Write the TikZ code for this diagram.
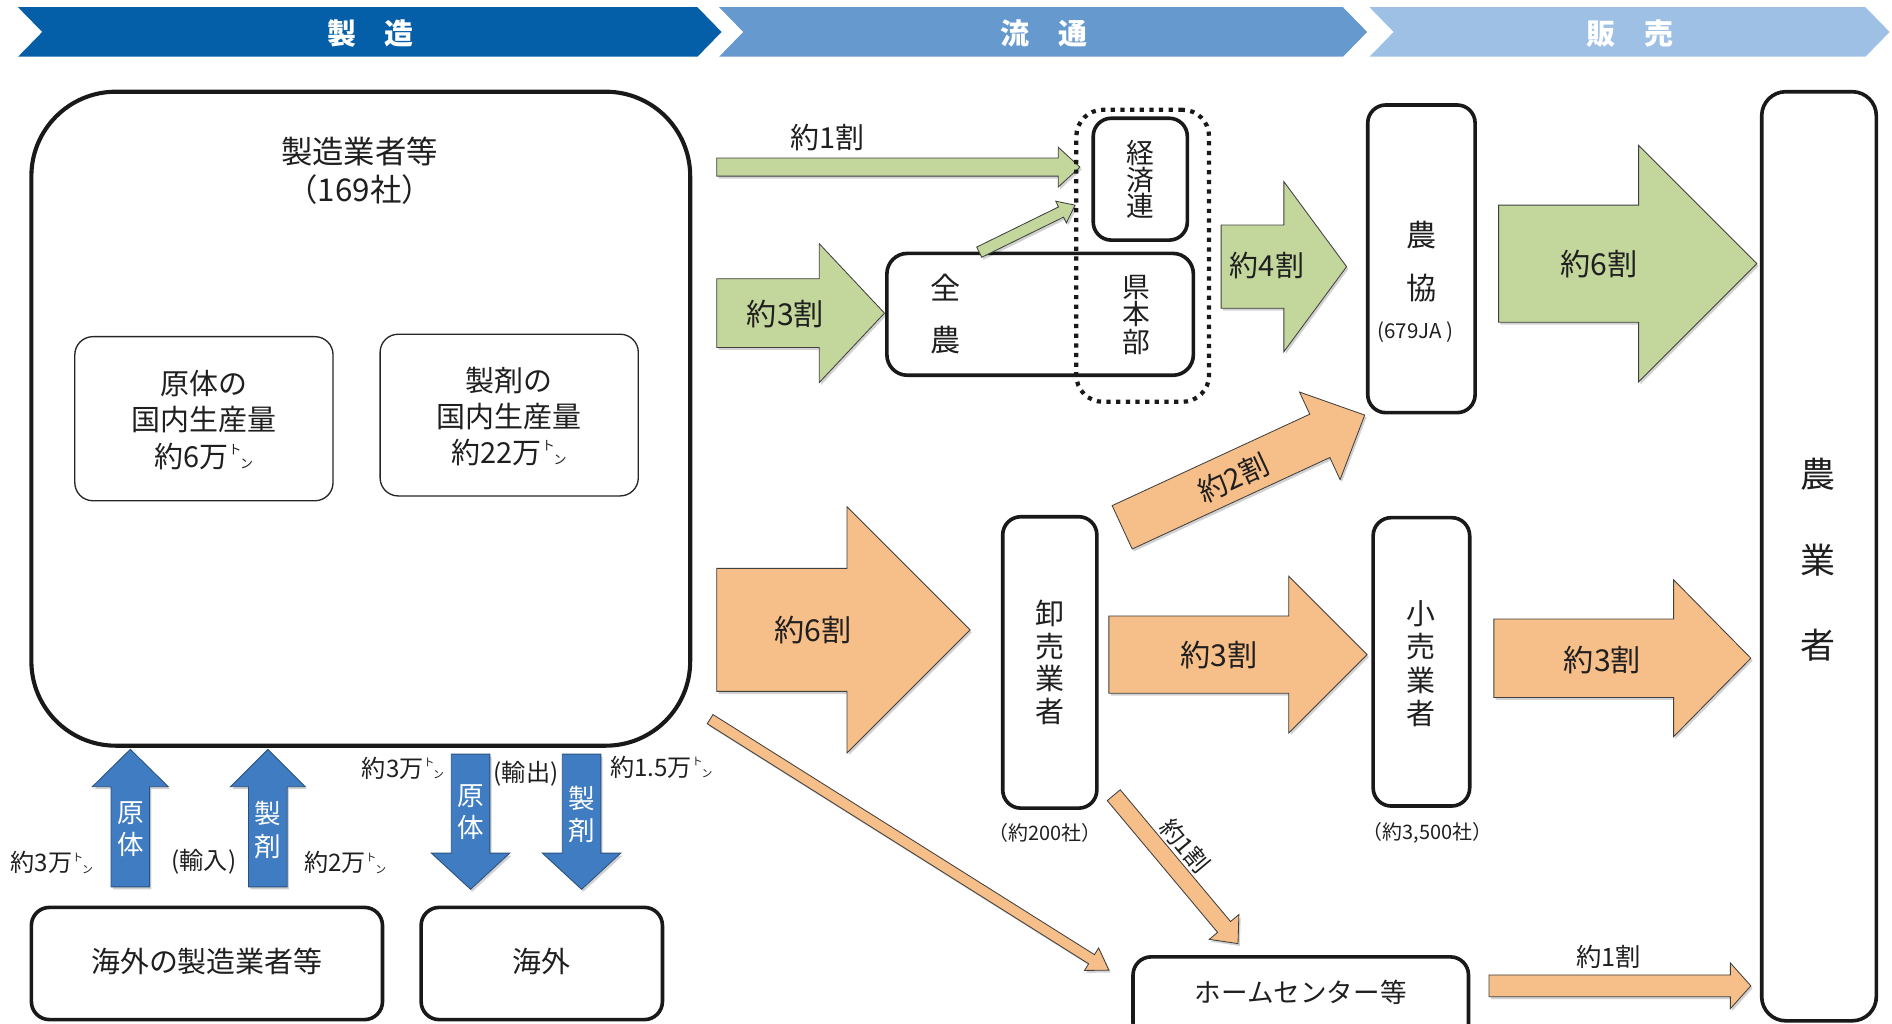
\documentclass[tikz,border=0pt]{standalone}
\usepackage{fontspec}
\setmainfont{Noto Sans CJK JP}
\usepackage{graphicx}
\usetikzlibrary{calc,shadows}
\definecolor{bannerA}{RGB}{4,94,168}
\definecolor{bannerB}{RGB}{102,153,206}
\definecolor{bannerC}{RGB}{158,192,229}
\definecolor{agreen}{RGB}{195,214,155}
\definecolor{aorange}{RGB}{246,190,136}
\definecolor{ablue}{RGB}{64,124,193}
\newcommand{\jfs}[2]{\fontsize{#1}{#2}\selectfont}
\newcommand{\tonmk}{\raisebox{0.45em}{\scalebox{0.45}{ト}}\hspace{-0.05em}\raisebox{-0.05em}{\scalebox{0.45}{ン}}}
\newcommand{\blockarrow}[6]{%
  \coordinate (#3h) at ($(#3)!#6!(#2)$);
  \draw[#1] ($(#2)!#4!90:(#3)$) -- ($(#3h)!#4!90:(#3)$) -- ($(#3h)!#5!90:(#3)$) -- (#3) -- ($(#3h)!#5!-90:(#3)$) -- ($(#3h)!#4!-90:(#3)$) -- ($(#2)!#4!-90:(#3)$) -- cycle;
}
\begin{document}
\begin{tikzpicture}[x=1pt,y=-1pt,
  thickbox/.style={draw=black!90, line width=3pt, rounded corners=#1, fill=white, inner sep=0pt},
  thickbox/.default=15pt,
  thinbox/.style={draw=black!85, line width=1.1pt, rounded corners=15pt, fill=white, inner sep=0pt},
  ashadow/.style={drop shadow={shadow xshift=1.5pt, shadow yshift=-2pt, opacity=0.18, fill=black}},
  greenarr/.style={fill=agreen, draw=black!75, line width=0.7pt, ashadow},
  orangearr/.style={fill=aorange, draw=black!75, line width=0.7pt, ashadow},
  bluearr/.style={fill=ablue, draw=ablue!65!black, line width=0.7pt, ashadow},
  lbl/.style={inner sep=0pt, text=black!88, align=center},
  hdr/.style={inner sep=0pt, text=white, font=\jfs{24}{28}\bfseries},
  wlbl/.style={inner sep=0pt, text=white, align=center, font=\jfs{22}{27}},
]
\useasboundingbox (0,0) rectangle (1568,848);

% header banner
\fill[bannerA] (15,6) -- (578,6) -- (598,26.5) -- (578,47) -- (15,47) -- (35,26.5) -- cycle;
\fill[bannerB] (596,6) -- (1113,6) -- (1133,26.5) -- (1113,47) -- (596,47) -- (616,26.5) -- cycle;
\fill[bannerC] (1135,6) -- (1546,6) -- (1566,26.5) -- (1546,47) -- (1135,47) -- (1155,26.5) -- cycle;
\node[hdr] (h1) at (307,28) {製　造};
\node[hdr] (h2) at (865,28) {流　通};
\node[hdr] (h3) at (1351,28) {販　売};

% manufacturer box
\node[thickbox=70pt, line width=3.4pt, minimum width=546pt, minimum height=542pt] (mfr) at (299,347) {};
\node[lbl, font=\jfs{26}{31}] (mfrt) at (298,141.5) {製造業者等\\（169社）};
\node[thinbox, minimum width=214pt, minimum height=136pt] (genb) at (169,347) {};
\node[lbl, font=\jfs{24}{30}] (genbt) at (169,348) {原体の\\国内生産量\\約6万\tonmk};
\node[thinbox, minimum width=214pt, minimum height=134pt] (seib) at (422,344) {};
\node[lbl, font=\jfs{24}{30}] (seibt) at (422,345) {製剤の\\国内生産量\\約22万\tonmk};

% overseas boxes
\node[thickbox, minimum width=291pt, minimum height=93pt] (ovm) at (171.5,798.5) {};
\node[lbl, font=\jfs{24}{28}] (ovmt) at (171.5,797) {海外の製造業者等};
\node[thickbox, minimum width=200pt, minimum height=93pt] (ovs) at (449,798.5) {};
\node[lbl, font=\jfs{24}{28}] (ovst) at (449,797) {海外};

% blue import/export arrows
\coordinate (b1s) at (108,735); \coordinate (b1e) at (108,621);
\blockarrow{bluearr}{b1s}{b1e}{16pt}{31.5pt}{31pt}
\coordinate (b2s) at (222,735); \coordinate (b2e) at (222,621);
\blockarrow{bluearr}{b2s}{b2e}{16pt}{31pt}{31pt}
\coordinate (b3s) at (390,625); \coordinate (b3e) at (390,737);
\blockarrow{bluearr}{b3s}{b3e}{16pt}{32.5pt}{30pt}
\coordinate (b4s) at (482,625); \coordinate (b4e) at (482,737);
\blockarrow{bluearr}{b4s}{b4e}{16pt}{32.5pt}{30pt}
\node[wlbl] (b1t) at (108,687) {原\\体};
\node[wlbl] (b2t) at (222,688) {製\\剤};
\node[wlbl] (b3t) at (390,673) {原\\体};
\node[wlbl] (b4t) at (482,675) {製\\剤};
\node[lbl, font=\jfs{20}{24}] (l1) at (43,715) {約3万\tonmk};
\node[lbl, font=\jfs{20}{24}] (l2) at (169,714) {(輸入)};
\node[lbl, font=\jfs{20}{24}] (l3) at (286,715) {約2万\tonmk};
\node[lbl, font=\jfs{20}{24}] (l4) at (334,637) {約3万\tonmk};
\node[lbl, font=\jfs{20}{24}] (l5) at (436,641) {(輸出)};
\node[lbl, font=\jfs{20}{24}] (l6) at (548,636) {約1.5万\tonmk};

% green arrows (JA route)
\coordinate (g1s) at (594,138.5); \coordinate (g1e) at (895,138.5);
\blockarrow{greenarr}{g1s}{g1e}{7.5pt}{16.5pt}{18pt}
\node[lbl, font=\jfs{24}{28}] (g1l) at (686,114) {約1割};
\coordinate (g3s) at (594,259.5); \coordinate (g3e) at (733,259.5);
\blockarrow{greenarr}{g3s}{g3e}{28.5pt}{57.5pt}{54pt}
\node[lbl, font=\jfs{25}{28}] (g3l) at (651,260) {約3割};

\node[thickbox=17pt, minimum width=254pt, minimum height=101pt] (zen) at (862,260.5) {};
\node[lbl, font=\jfs{25}{43}] (zent) at (784,260.5) {全\\農};
\node[lbl, font=\jfs{23}{22.5}] (kent) at (942,261) {県\\本\\部};
\node[thickbox, minimum width=78pt, minimum height=101pt] (kei) at (945,148.5) {};
\node[lbl, font=\jfs{23}{22}] (keit) at (945,149) {経\\済\\連};
\node[draw=black!90, line width=3.5pt, dash pattern=on 3.5pt off 4.5pt, rounded corners=22pt, minimum width=110pt, minimum height=242pt, inner sep=0pt] (kenhon) at (947,212) {};
\coordinate (g2s) at (811.5,209); \coordinate (g2e) at (891,170);
\blockarrow{greenarr}{g2s}{g2e}{4.7pt}{10pt}{13pt}

\coordinate (g4s) at (1012,221); \coordinate (g4e) at (1116,221);
\blockarrow{greenarr}{g4s}{g4e}{34.5pt}{70.5pt}{52pt}
\node[lbl, font=\jfs{24}{28}] (g4l) at (1050,220) {約4割};

\node[thickbox, minimum width=89pt, minimum height=255pt] (noukyo) at (1178,214.5) {};
\node[lbl, font=\jfs{25}{44}] (noukyot) at (1178.5,217) {農\\協};
\node[lbl, font=\jfs{17}{20}] (noukyon) at (1173,275) {(679JA )};

\coordinate (g6s) at (1242,218.5); \coordinate (g6e) at (1456,218.5);
\blockarrow{greenarr}{g6s}{g6e}{48.5pt}{98pt}{98pt}
\node[lbl, font=\jfs{25}{28}] (g6l) at (1325,219) {約6割};

% farmers
\node[thickbox=20pt, minimum width=95pt, minimum height=770pt] (farm) at (1507.5,461) {};
\node[lbl, font=\jfs{29}{71}] (farmt) at (1507,464) {農\\業\\者};

% orange arrows (wholesale route)
\coordinate (o6s) at (594,522); \coordinate (o6e) at (804,522);
\blockarrow{orangearr}{o6s}{o6e}{51pt}{102pt}{102pt}
\node[lbl, font=\jfs{25}{28}] (o6l) at (674,522) {約6割};

\coordinate (ots) at (588.5,596); \coordinate (ote) at (919,804);
\blockarrow{orangearr}{ots}{ote}{4.5pt}{11pt}{17pt}

\node[thickbox, minimum width=78pt, minimum height=241.5pt] (whole) at (870,549) {};
\node[lbl, font=\jfs{24}{27.3}] (wholet) at (870,549) {卸\\売\\業\\者};
\node[lbl, font=\jfs{16.5}{18}] (wholen) at (866,690) {（約200社）};

\coordinate (o2s) at (930,437); \coordinate (o2e) at (1131,344);
\blockarrow{orangearr}{o2s}{o2e}{19.8pt}{40pt}{41pt}
\node[lbl, font=\jfs{24}{28}, rotate=25] (o2l) at (1022,396) {約2割};

\coordinate (o3as) at (919,542.5); \coordinate (o3ae) at (1133,542.5);
\blockarrow{orangearr}{o3as}{o3ae}{32pt}{65pt}{65pt}
\node[lbl, font=\jfs{25}{28}] (o3al) at (1010,543) {約3割};

\node[thickbox, minimum width=80pt, minimum height=239pt] (retail) at (1178,548.5) {};
\node[lbl, font=\jfs{24}{27.7}] (retailt) at (1178,550) {小\\売\\業\\者};
\node[lbl, font=\jfs{16.5}{18}] (retailn) at (1183,690) {（約3,500社）};

\coordinate (o3bs) at (1238,545.5); \coordinate (o3be) at (1451,545.5);
\blockarrow{orangearr}{o3bs}{o3be}{32.5pt}{65pt}{64pt}
\node[lbl, font=\jfs{25}{28}] (o3bl) at (1328,547) {約3割};

\coordinate (o1ds) at (923,659); \coordinate (o1de) at (1026,782);
\blockarrow{orangearr}{o1ds}{o1de}{7pt}{16pt}{18pt}
\node[lbl, font=\jfs{20}{24}, rotate=-50] (o1dl) at (982,701) {約1割};

% home center
\node[thickbox, minimum width=278pt, minimum height=70pt] (hc) at (1078,828) {};
\node[lbl, font=\jfs{22}{26}] (hct) at (1078,822) {ホームセンター等};
\coordinate (o1s) at (1234,817); \coordinate (o1e) at (1451,817);
\blockarrow{orangearr}{o1s}{o1e}{9pt}{19pt}{17pt}
\node[lbl, font=\jfs{21}{24}] (o1l) at (1333,793) {約1割};
\end{tikzpicture}
\end{document}
